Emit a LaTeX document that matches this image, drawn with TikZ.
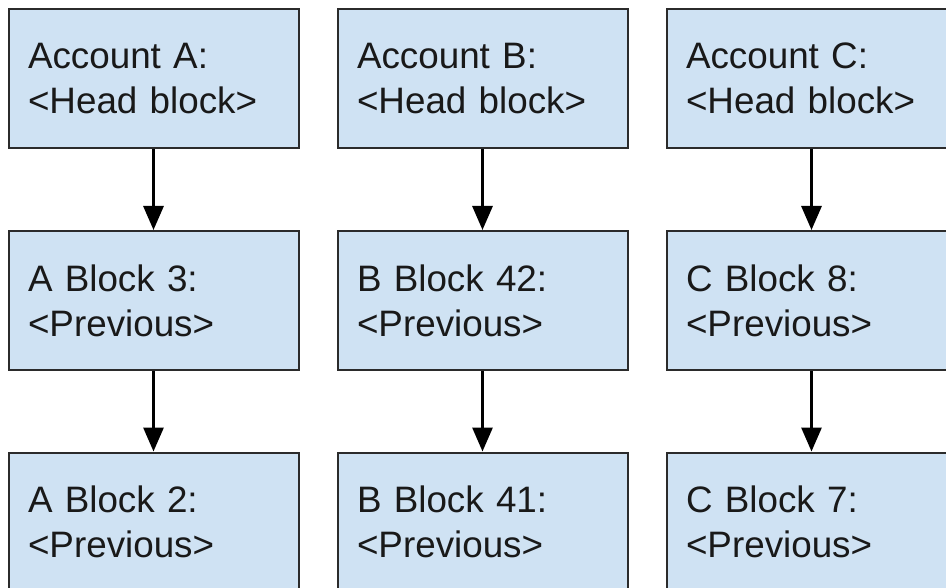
\documentclass[tikz,border=0pt]{standalone}
\usepackage{fontspec}
\setmainfont{Liberation Sans}
\usetikzlibrary{arrows.meta}
\definecolor{blockfill}{HTML}{CFE2F3}
\definecolor{blockline}{HTML}{2B2B2B}
\tikzset{
  block/.style={draw=blockline, line width=2pt, fill=blockfill,
    text width=251pt, inner xsep=19.5pt, inner ysep=0pt,
    minimum height=139pt, align=left,
    font=\fontsize{36.8}{46.5}\selectfont, text=black!90},
  link/.style={line width=3pt, -{Triangle[width=20pt,length=24pt]}}
}
% first line of a block label, nudged down slightly
\newcommand{\firstline}[1]{\raisebox{-1.5pt}{#1}}
\begin{document}
\begin{tikzpicture}[x=1pt, y=-1pt]
  \clip (0,0) rectangle (946,588);
  \fill[white] (0,0) rectangle (946,588);
  % account A chain
  \node[block] (a0) at (153.5,78.5) {\firstline{Account A:}\\<Head block>};
  \node[block] (a1) at (153.5,300.5) {\firstline{A Block 3:}\\<Previous>};
  \node[block] (a2) at (153.5,522) {\firstline{A Block 2:}\\<Previous>};
  % account B chain
  \node[block] (b0) at (482.5,78.5) {\firstline{Account B:}\\<Head block>};
  \node[block] (b1) at (482.5,300.5) {\firstline{B Block 42:}\\<Previous>};
  \node[block] (b2) at (482.5,522) {\firstline{B Block 41:}\\<Previous>};
  % account C chain
  \node[block] (c0) at (811.5,78.5) {\firstline{Account C:}\\<Head block>};
  \node[block] (c1) at (811.5,300.5) {\firstline{C Block 8:}\\<Previous>};
  \node[block] (c2) at (811.5,522) {\firstline{C Block 7:}\\<Previous>};
  % back-links
  \foreach \p in {a,b,c}{
    \draw[link] (\p0.south) -- (\p1.north);
    \draw[link] (\p1.south) -- (\p2.north);
  }
\end{tikzpicture}
\end{document}
